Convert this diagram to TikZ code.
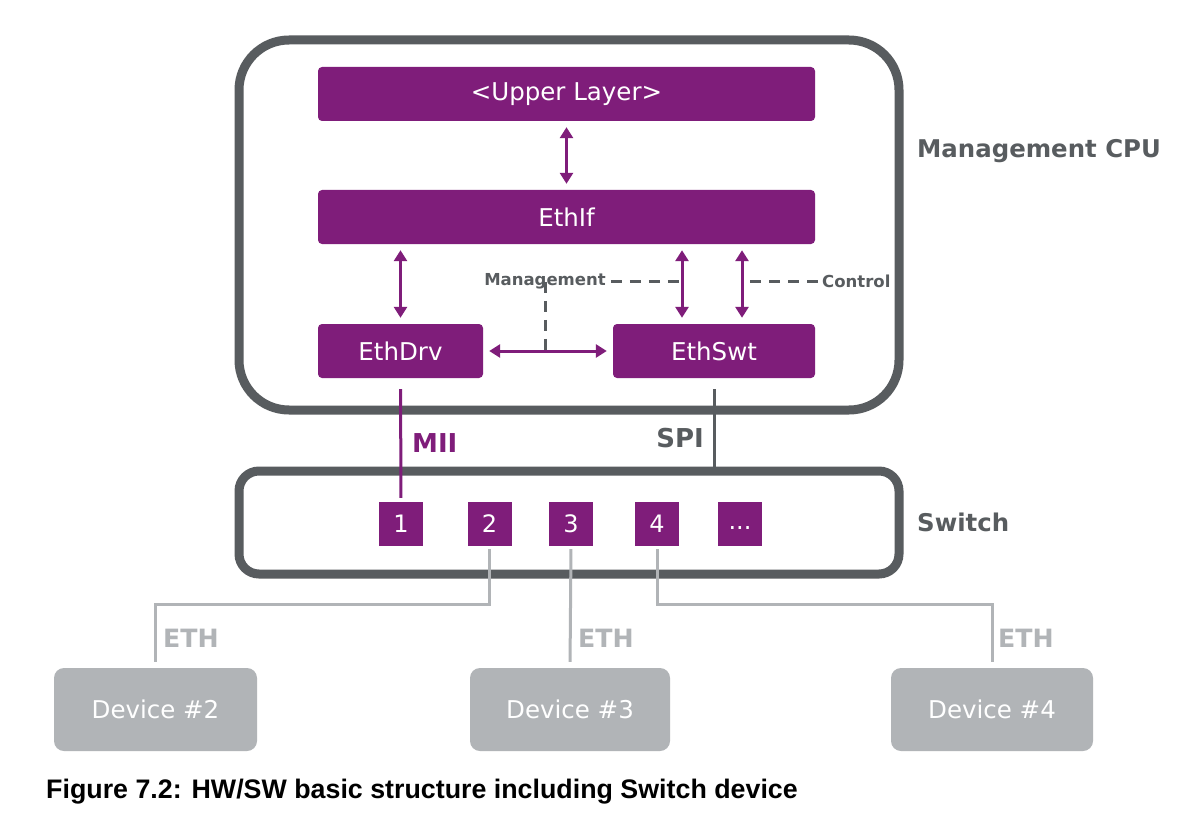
\documentclass[tikz,border=0pt]{standalone}
\usepackage{fontspec}
\setmainfont{DejaVu Sans}
\newfontfamily\capfont{Liberation Sans}
\usetikzlibrary{arrows.meta}
\definecolor{vpurple}{HTML}{7F1D7A}
\definecolor{dgray}{HTML}{585C5F}
\definecolor{lgray}{HTML}{B1B4B7}
\begin{document}
\begin{tikzpicture}[x=1pt,y=-1pt,
  swbox/.style={fill=vpurple, text=white, rounded corners=4pt, inner sep=0pt, minimum height=54pt, font=\fontsize{24.5}{28}\selectfont},
  port/.style={fill=vpurple, text=white, minimum size=44pt, inner sep=0pt, font=\fontsize{24}{28}\selectfont},
  dev/.style={fill=lgray, text=white, rounded corners=10pt, minimum height=83pt, inner sep=0pt, font=\fontsize{24.5}{28}\selectfont},
  frame/.style={draw=dgray, line width=9pt, inner sep=0pt},
  biarrow/.style={draw=vpurple, line width=3pt, {Triangle[width=13pt,length=11pt]}-{Triangle[width=13pt,length=11pt]}, shorten >=6pt, shorten <=6pt},
  dashline/.style={draw=dgray, line width=3pt, dash pattern=on 11pt off 8pt},
  ethline/.style={draw=lgray, line width=3pt},
  biglbl/.style={font=\bfseries\fontsize{24.4}{28}\selectfont, text=dgray, inner sep=0pt},
  linklbl/.style={font=\bfseries\fontsize{26}{30}\selectfont, text=dgray, inner sep=0pt},
  smalllbl/.style={font=\bfseries\fontsize{16.5}{20}\selectfont, text=dgray, inner sep=0pt}
]
\useasboundingbox[fill=white] (0,0) rectangle (1201,821);

% frames
\node[frame, rounded corners=50pt, minimum width=660pt, minimum height=370pt] (cpu) at (569,225) {};
\node[frame, rounded corners=20pt, minimum width=660pt, minimum height=103pt] (sw) at (569,522.5) {};

% software boxes
\node[swbox, minimum width=497pt] (upper) at (566.5,94) {\raisebox{-2pt}{<Upper Layer>}};
\node[swbox, minimum width=497pt] (ethif) at (566.5,217) {EthIf};
\node[swbox, minimum width=165pt] (drv) at (400.5,351) {EthDrv};
\node[swbox, minimum width=202pt] (swt) at (714,351) {EthSwt};

% ports
\node[port] (p1) at (401,524) {1};
\node[port] (p2) at (489.5,524) {2};
\node[port] (p3) at (571,524) {3};
\node[port] (p4) at (657,524) {4};
\node[port] (p5) at (740,524) {\strut{.}{.}{.}};

% devices
\node[dev, minimum width=203pt] (d2) at (155.5,709.5) {Device \#2};
\node[dev, minimum width=200pt] (d3) at (570,709.5) {Device \#3};
\node[dev, minimum width=202pt] (d4) at (992,709.5) {Device \#4};

% labels
\node[biglbl, anchor=west] (lcpu) at (917,151) {Management CPU};
\node[biglbl, anchor=west] (lsw) at (917,522) {Switch};
\node[smalllbl] (lmgmt) at (545,281) {Management};
\node[smalllbl, anchor=west] (lctrl) at (822,281) {Control};
\node[linklbl, text=vpurple, anchor=west] (lmii) at (412,443) {MII};
\node[linklbl, anchor=east] (lspi) at (704,438) {SPI};

% arrows
\draw[biarrow] (upper.south) -- (ethif.north);
\draw[biarrow] (ethif.south -| drv.north) -- (drv.north);
\coordinate (sa) at ([xshift=-32pt]swt.north);
\coordinate (sb) at ([xshift=28pt]swt.north);
\draw[biarrow] (ethif.south -| sa) -- (sa);
\draw[biarrow] (ethif.south -| sb) -- (sb);
\draw[biarrow] (drv.east) -- (swt.west);

% dashed
\draw[dashline] ([xshift=5pt]lmgmt.east) -- ([xshift=-3pt]lmgmt.east -| sa);
\draw[dashline] ([yshift=7pt]lmgmt.south) -- ([yshift=-5pt]lmgmt.south |- drv.east);
\draw[dashline] ([xshift=8pt]lctrl.west -| sb) -- ([xshift=-2pt]lctrl.west);

% MII and SPI
\draw[draw=vpurple, line width=3pt, shorten <=11pt, shorten >=4pt] (drv.south) -- (p1.north);
\draw[draw=dgray, line width=3pt, shorten <=11pt] (swt.south) -- (swt.south |- sw.north);

% ETH lines
\coordinate (c2) at (489.5,604);
\coordinate (c4) at (657,604);
\draw[ethline, shorten <=3pt, shorten >=6pt] (p2.south) -- (c2) -| (d2.north);
\draw[ethline, shorten <=3pt, shorten >=6pt] (p3.south) -- (d3.north);
\draw[ethline, shorten <=3pt, shorten >=6pt] (p4.south) -- (c4) -| (d4.north);
\node[linklbl, font=\bfseries\fontsize{25.2}{30}\selectfont, text=lgray, anchor=west] (e2) at (163,638) {ETH};
\node[linklbl, font=\bfseries\fontsize{25.2}{30}\selectfont, text=lgray, anchor=west] (e3) at (578,638) {ETH};
\node[linklbl, font=\bfseries\fontsize{25.2}{30}\selectfont, text=lgray, anchor=west] (e4) at (998,638) {ETH};

% caption
\node[anchor=west, inner sep=0pt, font=\capfont\bfseries\fontsize{26.8}{30}\selectfont] (cap) at (46,792) {Figure 7.2: HW/SW basic structure including Switch device};
\end{tikzpicture}
\end{document}
